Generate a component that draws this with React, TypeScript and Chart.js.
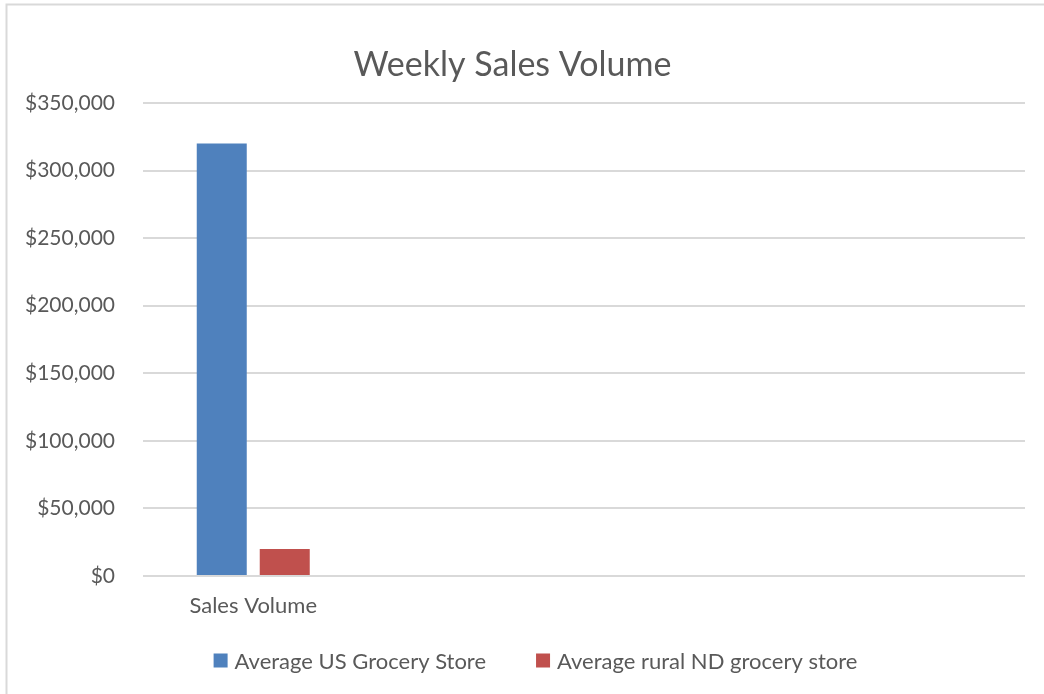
import React, { useEffect, useRef } from "react";
import { Chart, registerables } from "chart.js";

Chart.register(...registerables);

const categories = ["Sales Volume", "", "", ""];
const usStore = [320000, null, null, null];
const ndStore = [20000, null, null, null];
const seriesNames = ["Average US Grocery Store", "Average rural ND grocery store"];
const seriesColors = ["#4F81BD", "#C0504D"];
const yMax = 350000;
const yStep = 50000;

const FONT = "Lato, 'Open Sans', sans-serif";
const TEXT = "#595959";

const frame = {
  id: "frame",
  beforeDraw(chart: any) {
    const ctx = chart.ctx;
    ctx.save();
    ctx.fillStyle = "#ffffff";
    ctx.fillRect(0, 0, chart.width, chart.height);
    ctx.strokeStyle = "#d9d9d9";
    ctx.lineWidth = 2;
    ctx.strokeRect(6.5, 4.5, chart.width + 20, chart.height + 20);
    ctx.restore();
  },
};

// Excel-style legend under the plot
const excelLegend = {
  id: "excelLegend",
  afterDraw(chart: any) {
    const ctx = chart.ctx;
    ctx.save();
    ctx.font = `22px ${FONT}`;
    ctx.textBaseline = "middle";
    ctx.textAlign = "left";
    const box = 14;
    const gapText = 7;
    const gapItem = 50;
    const widths = chart.data.datasets.map((d: any) => ctx.measureText(d.label).width);
    const total = widths.reduce((a: number, w: number) => a + box + gapText + w, 0) + gapItem * (widths.length - 1);
    const cy = 660.5;
    let x = chart.width / 2 + 13.5 - total / 2;
    chart.data.datasets.forEach((d: any, i: number) => {
      ctx.fillStyle = d.backgroundColor;
      ctx.fillRect(x, cy - box / 2, box, box);
      ctx.fillStyle = TEXT;
      ctx.fillText(d.label, x + box + gapText, cy + 1);
      x += box + gapText + widths[i] + gapItem;
    });
    ctx.restore();
  },
};

export default function App() {
  const ref = useRef<HTMLCanvasElement>(null);
  useEffect(() => {
    const chart = new Chart(ref.current!, {
      type: "bar",
      data: {
        labels: categories,
        datasets: [
          { label: seriesNames[0], data: usStore, backgroundColor: seriesColors[0], categoryPercentage: 0.5714, barPercentage: 0.7937 },
          { label: seriesNames[1], data: ndStore, backgroundColor: seriesColors[1], categoryPercentage: 0.5714, barPercentage: 0.7937 },
        ],
      },
      options: {
        animation: false,
        responsive: false,
        maintainAspectRatio: false,
        layout: { padding: { left: 0, right: 19, top: 0, bottom: 74 } },
        plugins: {
          title: {
            display: true,
            text: "Weekly Sales Volume",
            color: TEXT,
            font: { family: FONT, size: 34, weight: "normal" },
            padding: { top: 45, bottom: 17.2 },
          },
          legend: { display: false },
          tooltip: { enabled: false },
        },
        scales: {
          x: {
            grid: { display: false, drawTicks: false },
            border: { display: false },
            ticks: { color: TEXT, font: { family: FONT, size: 22 }, padding: 17 },
            afterFit(scale: any) {
              scale.height = 44;
            },
          },
          y: {
            min: 0,
            max: yMax,
            grid: { color: "#d9d9d9", lineWidth: 2, drawTicks: false },
            border: { display: false },
            ticks: {
              stepSize: yStep,
              color: TEXT,
              padding: 28,
              font: { family: FONT, size: 21 },
              callback: (v: any) => "$" + Number(v).toLocaleString("en-US"),
            },
            afterFit(scale: any) {
              scale.width = 143;
            },
          },
        },
      },
      plugins: [frame, excelLegend],
    });
    return () => chart.destroy();
  }, []);
  return (
    <div style={{ position: "absolute", left: 0, top: 0, width: 1044, height: 694 }}>
      <canvas ref={ref} width={1044} height={694} style={{ display: "block" }} />
    </div>
  );
}
